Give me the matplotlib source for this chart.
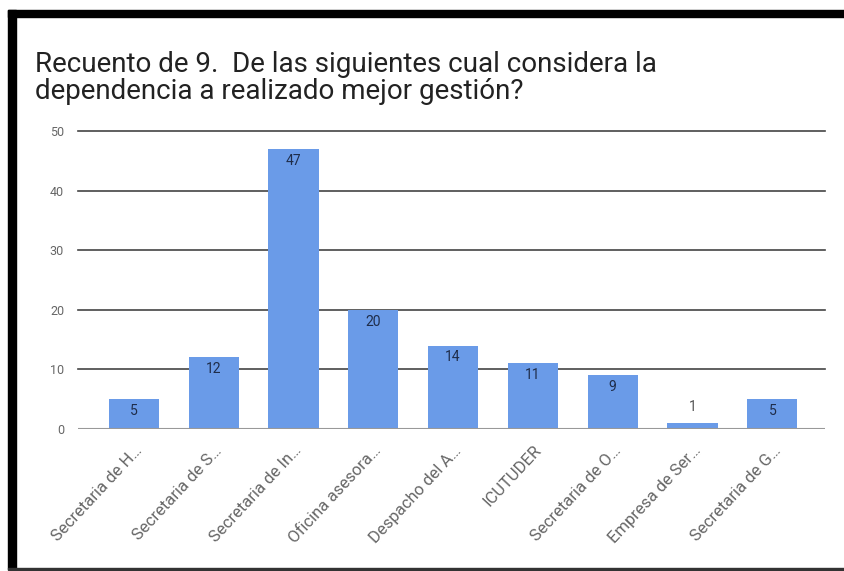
import matplotlib
matplotlib.use("Agg")
import matplotlib.pyplot as plt
from matplotlib.patches import Rectangle
import numpy as np

# Data
categorias = ["Secretaria de H…", "Secretaria de S…", "Secretaria de In…",
              "Oficina asesora…", "Despacho del A…", "ICUTUDER",
              "Secretaria de O…", "Empresa de Ser…", "Secretaria de G…"]
recuento = [5, 12, 47, 20, 14, 11, 9, 1, 5]
y_ticks = [0, 10, 20, 30, 40, 50]

titulo = "Recuento de 9.  De las siguientes cual considera la\ndependencia a realizado mejor gestión?"

plt.rcParams['font.family'] = ['Roboto', 'DejaVu Sans']

fig = plt.figure(figsize=(8.44, 5.71), dpi=100)
ax = fig.add_axes([0.0924, 0.2487, 0.8851, 0.5219])

x = np.arange(len(categorias))
ax.bar(x, recuento, width=0.63, color="#6a9be8", zorder=3)

# value labels inside the top of each bar
for xi, v in zip(x, recuento):
    if v >= 3:
        ax.text(xi, v - 0.8, str(v), ha="center", va="top", fontsize=10,
                color="#1f2d4a", zorder=4)
    else:
        ax.text(xi, v + 1.5, str(v), ha="center", va="bottom", fontsize=10,
                color="#555555", zorder=4)

ax.set_xlim(-0.7, 8.66)
ax.set_ylim(0, 50)
ax.set_yticks(y_ticks)
ax.set_xticks(x)
ax.set_xticklabels(categorias, rotation=47, ha="right", rotation_mode="anchor",
                   fontsize=12, color="#666666")
ax.tick_params(axis="y", labelsize=9, labelcolor="#666666", length=0, pad=10)
ax.tick_params(axis="x", length=0, pad=10)

for v in y_ticks[1:]:
    ax.axhline(v, color="#444444", linewidth=1.2, zorder=1, clip_on=False)
ax.axhline(0, color="#999999", linewidth=1.5, zorder=4)

for s in ax.spines.values():
    s.set_visible(False)

fig.text(0.041, 0.911, titulo, fontsize=20, color="#222222", va="top",
         ha="left", linespacing=1.0)

# black frame of the screenshot
fig.patches.append(Rectangle((8 / 844, 1 - 17 / 571), 1, 7 / 571,
                             transform=fig.transFigure, color="black"))
fig.patches.append(Rectangle((8 / 844, 2 / 571), 8 / 844, 559 / 571,
                             transform=fig.transFigure, color="black"))
fig.patches.append(Rectangle((8 / 844, 1 / 571), 1, 2 / 571,
                             transform=fig.transFigure, color="#333333"))

fig.savefig("out.png", dpi=100)
